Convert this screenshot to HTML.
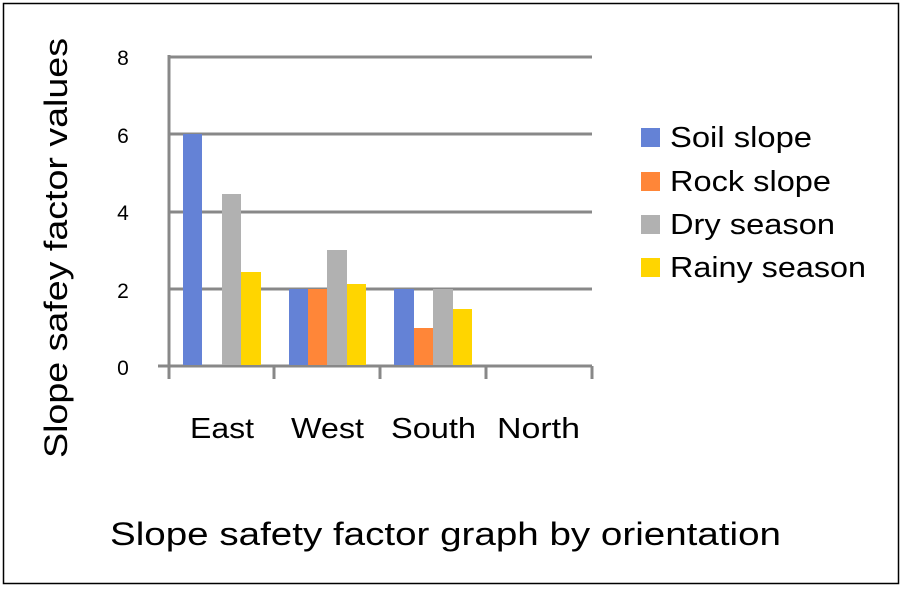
<!DOCTYPE html>
<html><head><style>
body{margin:0;background:#fff;}
svg text{font-family:"Liberation Sans","NanumGothic",sans-serif;fill:#000;}
</style></head><body>
<svg width="902" height="588" xmlns="http://www.w3.org/2000/svg">
<rect x="3.5" y="3.5" width="895" height="580" fill="#fff" stroke="#000" stroke-width="1.5"/>
<g stroke="#888" stroke-width="3">
<line x1="169" y1="57" x2="592" y2="57"/>
<line x1="169" y1="134" x2="592" y2="134"/>
<line x1="169" y1="212" x2="592" y2="212"/>
<line x1="169" y1="289" x2="592" y2="289"/>
<line x1="158" y1="366" x2="592" y2="366"/>
<line x1="169" y1="55" x2="169" y2="379"/>
<line x1="274" y1="366" x2="274" y2="379"/>
<line x1="380" y1="366" x2="380" y2="379"/>
<line x1="486" y1="366" x2="486" y2="379"/>
<line x1="592" y1="366" x2="592" y2="379"/>
</g>
<g>
<rect x="183" y="134" width="19" height="231" fill="#6482d6"/>
<rect x="222" y="194" width="19" height="171" fill="#b1b1b1"/>
<rect x="241" y="272" width="20" height="93" fill="#ffd500"/>
<rect x="289" y="289" width="19" height="76" fill="#6482d6"/>
<rect x="308" y="289" width="19" height="76" fill="#ff8638"/>
<rect x="327" y="250" width="20" height="115" fill="#b1b1b1"/>
<rect x="347" y="284" width="19" height="81" fill="#ffd500"/>
<rect x="394" y="289" width="20" height="76" fill="#6482d6"/>
<rect x="414" y="328" width="19" height="37" fill="#ff8638"/>
<rect x="433" y="289" width="20" height="76" fill="#b1b1b1"/>
<rect x="453" y="309" width="19" height="56" fill="#ffd500"/>
</g>
<g font-size="21" text-anchor="middle">
<text x="123" y="65">8</text>
<text x="123" y="143">6</text>
<text x="123" y="220">4</text>
<text x="123" y="298">2</text>
<text x="123" y="375">0</text>
</g>
<g font-size="29" lengthAdjust="spacingAndGlyphs">
<text x="190" y="438" textLength="64" lengthAdjust="spacingAndGlyphs">East</text>
<text x="291" y="438" textLength="73" lengthAdjust="spacingAndGlyphs">West</text>
<text x="391" y="438" textLength="85" lengthAdjust="spacingAndGlyphs">South</text>
<text x="497" y="438" textLength="83" lengthAdjust="spacingAndGlyphs">North</text>
</g>
<text transform="translate(67,458) rotate(-90)" font-size="32" textLength="420" lengthAdjust="spacingAndGlyphs">Slope safey factor values</text>
<text x="110" y="545" font-size="32" textLength="671" lengthAdjust="spacingAndGlyphs">Slope safety factor graph by orientation</text>
<rect x="641" y="128" width="19" height="19" fill="#6482d6"/>
<rect x="641" y="172" width="19" height="19" fill="#ff8638"/>
<rect x="641" y="215" width="19" height="19" fill="#b1b1b1"/>
<rect x="641" y="258" width="19" height="19" fill="#ffd500"/>
<g font-size="29">
<text x="670" y="147" textLength="142" lengthAdjust="spacingAndGlyphs">Soil slope</text>
<text x="670" y="191" textLength="161" lengthAdjust="spacingAndGlyphs">Rock slope</text>
<text x="670" y="234" textLength="165" lengthAdjust="spacingAndGlyphs">Dry season</text>
<text x="670" y="277" textLength="196" lengthAdjust="spacingAndGlyphs">Rainy season</text>
</g>
</svg>
</body></html>
